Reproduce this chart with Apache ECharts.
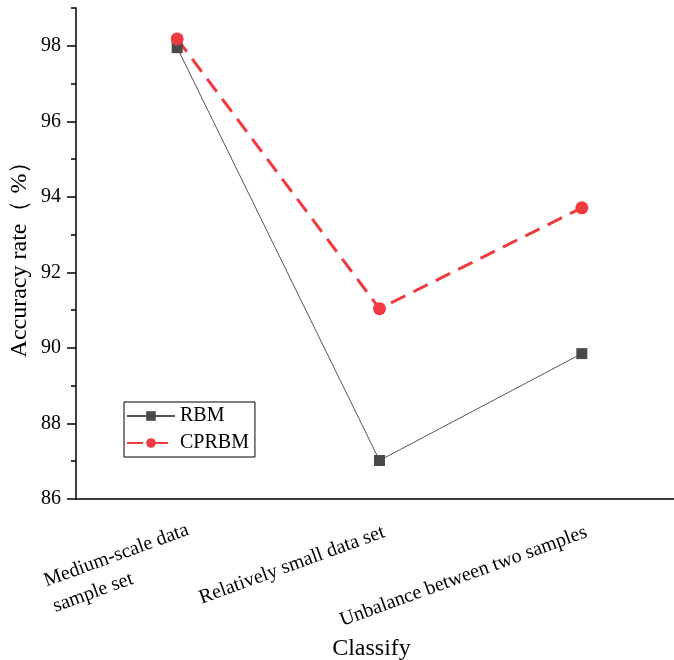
<!DOCTYPE html>
<html><head><meta charset="utf-8">
<script src="https://cdn.jsdelivr.net/npm/echarts@6/dist/echarts.min.js"></script>
<style>html,body{margin:0;padding:0;background:#fff}#c{width:674px;height:660px}</style>
</head><body><div id="c"></div>
<script>
const categories = ['Medium-scale data\nsample set', 'Relatively small data set', 'Unbalance between two samples'];
const rbm = [97.95, 87.02, 89.85];
const cprbm = [98.18, 91.04, 93.71];
const yTicks = [86, 88, 90, 92, 94, 96, 98];
const yMinorTicks = [87, 89, 91, 93, 95, 97, 99];

const font = 'Liberation Serif';
const chart = echarts.init(document.getElementById('c'));
chart.setOption({
  animation: false,
  textStyle: { fontFamily: font },
  grid: { left: 76, top: 8, width: 607, bottom: 161, outerBoundsMode: 'none', containLabel: false },
  legend: {
    left: 124, top: 402, orient: 'vertical',
    itemWidth: 48, itemHeight: 12, itemGap: 7,
    borderColor: '#000', borderWidth: 1, padding: [4, 6, 4, 2],
    textStyle: { fontFamily: font, fontSize: 20, color: '#000' },
    data: ['RBM', 'CPRBM']
  },
  xAxis: [{
    type: 'category', data: categories, boundaryGap: true,
    axisLine: { lineStyle: { color: '#000', width: 1.5 } },
    axisTick: { alignWithLabel: true, length: 9, lineStyle: { color: '#000', width: 1.5 } },
    axisLabel: { rotate: 20, fontFamily: font, fontSize: 20, color: '#000', margin: 20, interval: 0,
      verticalAlign: 'top', lineHeight: 27,
      formatter: v => v.includes('\n') ? v.split('\n').map(s => '{l|' + s + '}').join('\n') : v,
      rich: { l: { width: 146, align: 'left', overflow: 'none', fontFamily: font, fontSize: 20, color: '#000', lineHeight: 27 } } },
    name: 'Classify', nameLocation: 'middle', nameGap: 138, nameMoveOverlap: false,
    nameTextStyle: { fontFamily: font, fontSize: 24, color: '#000', padding: [0, 16, 0, 0] }
  }, {
    type: 'category', data: categories, boundaryGap: true, position: 'bottom',
    axisLine: { show: false },
    axisTick: { length: 5, lineStyle: { color: '#000', width: 1.5 } },
    axisLabel: { show: false }
  }],
  yAxis: [{
    type: 'value', min: 86, max: 99, interval: 2,
    splitLine: { show: false },
    axisLine: { show: true, lineStyle: { color: '#000', width: 1.5 } },
    axisTick: { show: true, length: 9, customValues: yTicks, lineStyle: { color: '#000', width: 1.5 } },
    axisLabel: { fontFamily: font, fontSize: 20, color: '#000', margin: 15, customValues: yTicks },
    name: 'Accuracy rate（ %）', nameLocation: 'middle', nameGap: 44, nameMoveOverlap: false,
    nameTextStyle: { fontFamily: font, fontSize: 24, color: '#000' }
  }, {
    type: 'value', min: 86, max: 99, interval: 2, position: 'left', offset: 0,
    splitLine: { show: false },
    axisLine: { show: false },
    axisTick: { show: true, length: 5, customValues: yMinorTicks, lineStyle: { color: '#000', width: 1.5 } },
    axisLabel: { show: false }
  }],
  series: [{
    name: 'RBM', type: 'line', data: rbm,
    symbol: 'rect', symbolSize: 11,
    itemStyle: { color: '#4a4a4a' },
    lineStyle: { color: '#555', width: 1 }
  }, {
    name: 'CPRBM', type: 'line', data: cprbm,
    symbol: 'circle', symbolSize: 13,
    itemStyle: { color: '#ef3b3f' },
    lineStyle: { color: '#ef3b3f', width: 3, type: [16, 9] }
  }]
});
</script></body></html>
